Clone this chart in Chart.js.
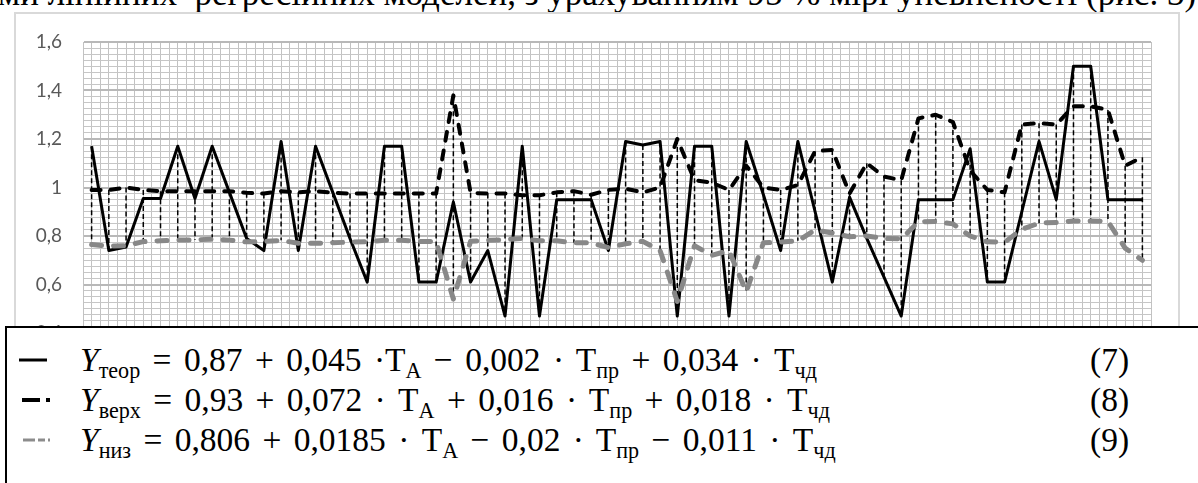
<!DOCTYPE html>
<html>
<head>
<meta charset="utf-8">
<script src="https://cdn.jsdelivr.net/npm/chart.js@4.4.0/dist/chart.umd.min.js"></script>
<style>
  html, body { margin: 0; padding: 0; background: #fff; overflow: hidden; }
  body { width: 1198px; height: 483px; position: relative; }
  #caption { position: absolute; left: -2px; top: -24px; font: 35px/35px "Liberation Serif", serif; white-space: nowrap; color: #000; }
  #frame { position: absolute; left: 14px; top: 12px; width: 1166px; height: 420px; border: 2px solid #d9d9d9; box-sizing: border-box; }
  #chartBox { position: absolute; left: 0; top: 0; width: 1198px; height: 340px; }
  #legend { position: absolute; left: 5px; top: 326px; width: 1210px; height: 200px; border: 2px solid #000; background: #fff; box-sizing: border-box; }
  .row { position: absolute; left: 0; width: 1190px; height: 40px; font-family: "Liberation Serif", serif; font-size: 33.5px; color: #000; white-space: nowrap; }
  .row svg { position: absolute; left: 4px; top: 13px; }
  .row .eq { position: absolute; left: 73px; top: 0; line-height: 40px; word-spacing: 4px; }
  .row .num { position: absolute; left: 1083px; top: 0; line-height: 40px; }
  .row sub { font-size: 0.66em; vertical-align: -0.32em; line-height: 0; word-spacing: 0; }
  .row i { font-style: italic; }
</style>
</head>
<body>
<div id="caption">ми лінійних &nbsp;регресійних моделей, з урахуванням 95 % мірі упевненості (рис. 3)</div>
<div id="frame"></div>
<div id="chartBox"><canvas id="chart" width="1198" height="340"></canvas></div>
<div id="legend">
  <div class="row" style="top:12px">
    <svg width="44" height="14"><line x1="8" y1="7" x2="36" y2="7" stroke="#000" stroke-width="3"/></svg>
    <span class="eq"><i>Y</i><sub>теор</sub> = 0,87 + 0,045 ·T<sub>A</sub> − 0,002 · T<sub>пр</sub> + 0,034 · T<sub>чд</sub></span>
    <span class="num">(7)</span>
  </div>
  <div class="row" style="top:52px">
    <svg width="44" height="14"><line x1="11" y1="7" x2="29" y2="7" stroke="#000" stroke-width="4"/><rect x="35" y="5" width="4" height="4" fill="#000"/></svg>
    <span class="eq"><i>Y</i><sub>верх</sub> = 0,93 + 0,072 · T<sub>A</sub> + 0,016 · T<sub>пр</sub> + 0,018 · T<sub>чд</sub></span>
    <span class="num">(8)</span>
  </div>
  <div class="row" style="top:92px">
    <svg width="44" height="14"><line x1="12" y1="7" x2="24" y2="7" stroke="#8c8c8c" stroke-width="3"/><line x1="27" y1="7" x2="34" y2="7" stroke="#8c8c8c" stroke-width="3"/><rect x="37" y="5.5" width="2" height="3" fill="#8c8c8c"/></svg>
    <span class="eq"><i>Y</i><sub>низ</sub> = 0,806 + 0,0185 · T<sub>A</sub> − 0,02 · T<sub>пр</sub> − 0,011 · T<sub>чд</sub></span>
    <span class="num">(9)</span>
  </div>
</div>
<script>
// observation numbers (x axis, labels hidden in the picture)
const categories = Array.from({ length: 62 }, (_, i) => i + 1);

// Y теор, eq. (7)
const teor = [
  1.17, 0.74, 0.755, 0.955, 0.955, 1.17, 0.955, 1.17, 0.98, 0.79,
  0.74, 1.19, 0.74, 1.17, 0.98, 0.79, 0.61, 1.17, 1.17, 0.61,
  0.61, 0.94, 0.61, 0.74, 0.47, 1.17, 0.47, 0.95, 0.95, 0.95,
  0.74, 1.19, 1.175, 1.19, 0.47, 1.17, 1.17, 0.47, 1.19, 0.97,
  0.74, 1.19, 0.90, 0.61, 0.96, 0.79, 0.63, 0.47, 0.95, 0.95,
  0.95, 1.16, 0.61, 0.61, 0.90, 1.19, 0.95, 1.50, 1.50, 0.95,
  0.95, 0.95
];

// Y верх, eq. (8)
const verkh = [
  0.99, 0.99, 1.0, 0.99, 0.985, 0.985, 0.985, 0.985, 0.985, 0.978,
  0.975, 0.985, 0.98, 0.985, 0.978, 0.975, 0.975, 0.975, 0.975, 0.975,
  0.975, 1.38, 0.978, 0.975, 0.975, 0.968, 0.968, 0.98, 0.985, 0.97,
  0.99, 0.995, 0.98, 1.0, 1.2, 1.03, 1.02, 0.99, 1.09, 1.0,
  0.99, 1.01, 1.15, 1.155, 0.975, 1.10, 1.045, 1.03, 1.285, 1.30,
  1.27, 1.07, 0.99, 0.98, 1.26, 1.265, 1.26, 1.335, 1.335, 1.32,
  1.09, 1.125
];

// Y низ, eq. (9)
const niz = [
  0.765, 0.758, 0.76, 0.777, 0.78, 0.784, 0.784, 0.787, 0.783, 0.776,
  0.777, 0.782, 0.77, 0.77, 0.772, 0.775, 0.777, 0.782, 0.782, 0.777,
  0.777, 0.54, 0.778, 0.782, 0.785, 0.79, 0.78, 0.78, 0.772, 0.772,
  0.752, 0.768, 0.778, 0.74, 0.53, 0.76, 0.72, 0.74, 0.57, 0.772,
  0.775, 0.78, 0.825, 0.812, 0.797, 0.80, 0.79, 0.788, 0.858, 0.86,
  0.85, 0.80, 0.776, 0.774, 0.828, 0.853, 0.856, 0.862, 0.862, 0.86,
  0.75, 0.70
];

// y axis: labelled every 0.2, light grid every 0.025
const yMin = 0.4, yMax = 1.6, yMinor = 0.025;

const isMajor = v => Math.abs(v * 5 - Math.round(v * 5)) < 1e-6;
const majorTick = c => !!(c.tick && isMajor(c.tick.value));

// vertical dashed lines from the highest to the lowest value of each point
const hiLoLines = {
  id: "hiLoLines",
  beforeDatasetsDraw(chart) {
    const { ctx, scales: { x, y } } = chart;
    ctx.save();
    ctx.strokeStyle = "#000";
    ctx.lineWidth = 1.5;
    ctx.setLineDash([5, 3]);
    categories.forEach((c, i) => {
      const vals = [teor[i], verkh[i], niz[i]];
      const px = x.getPixelForValue(c);
      ctx.beginPath();
      ctx.moveTo(px, y.getPixelForValue(Math.max(...vals)));
      ctx.lineTo(px, y.getPixelForValue(Math.min(...vals)));
      ctx.stroke();
    });
    ctx.restore();
  }
};

new Chart(document.getElementById("chart"), {
  type: "line",
  data: {
    labels: categories,
    datasets: [
      { label: "Yтеор", data: teor, borderColor: "#000", borderWidth: 3, order: 3 },
      { label: "Yверх", data: verkh, borderColor: "#000", borderWidth: 4, borderDash: [9, 10], borderCapStyle: "round", order: 2 },
      { label: "Yниз", data: niz, borderColor: "#888888", borderWidth: 5, borderDash: [10, 12], borderCapStyle: "round", order: 1 }
    ]
  },
  options: {
    responsive: false,
    animation: false,
    devicePixelRatio: 1,
    layout: { padding: { left: 0, right: 47, top: 42, bottom: 7 } },
    elements: { point: { radius: 0 }, line: { tension: 0, borderJoinStyle: "round" } },
    plugins: { legend: { display: false }, tooltip: { enabled: false } },
    scales: {
      x: {
        type: "linear",
        min: 0.5,
        max: 62.5,
        ticks: { display: false, stepSize: 0.5 },
        grid: { color: "#c2c2c2", lineWidth: 1, drawTicks: false },
        border: { color: "#c2c2c2", width: 1 }
      },
      y: {
        min: yMin,
        max: yMax,
        afterFit: s => { s.width = 83; s.paddingTop = 0; s.paddingBottom = 0; },
        ticks: {
          stepSize: yMinor,
          autoSkip: false,
          padding: 21,
          color: "#595959",
          font: { family: "Lato", size: 19 },
          callback: v => isMajor(v) ? String(+v.toFixed(1)).replace(".", ",") : ""
        },
        grid: {
          drawTicks: false,
          color: c => majorTick(c) ? "#b8b8b8" : "#c6c6c6",
          lineWidth: c => majorTick(c) ? 2 : 1
        },
        border: { color: "#c2c2c2", width: 1 }
      }
    }
  },
  plugins: [hiLoLines]
});
</script>
</body>
</html>
